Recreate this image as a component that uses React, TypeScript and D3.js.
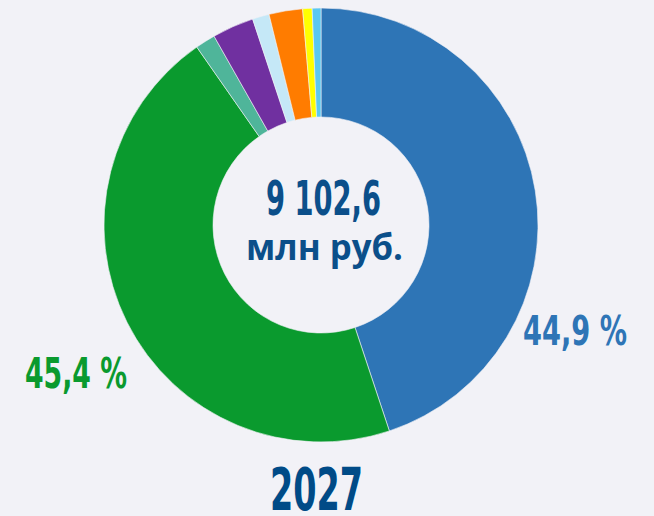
import React from "react";
import * as d3 from "d3";

const categories = ["A", "B", "C", "D", "E", "F", "G", "H"];
const values = [44.9, 45.4, 1.5, 3.1, 1.25, 2.5, 0.7, 0.65];
const colors = ["#2e75b6", "#0a9a2e", "#4fb59a", "#7030a0", "#c5e8f7", "#ff7c00", "#ffff00", "#5bc8f0"];
const labelBlue = "44,9 %";
const labelGreen = "45,4 %";
const totalText = "9 102,6";
const unitText = "млн руб.";
const yearText = "2027";

const W = 654;
const H = 516;
const cx = 321;
const cy = 225;
const rOuter = 217;
const rInner = 108;

const condensed = "'Liberation Sans Narrow', 'DejaVu Sans Condensed', sans-serif";

export default function App() {
  const pie = d3.pie<number>().sort(null).value((d) => d)(values);
  const arc = d3.arc<d3.PieArcDatum<number>>().innerRadius(rInner).outerRadius(rOuter);
  return (
    <svg width={W} height={H} style={{ position: "absolute", left: 0, top: 0, display: "block" }}>
      <rect x={0} y={0} width={W} height={H} fill="#f2f2f7" />
      <g transform={`translate(${cx},${cy})`}>
        {pie.map((p, i) => (
          <path key={categories[i]} d={arc(p) || ""} fill={colors[i]} stroke="#f2f2f7" strokeWidth={0.6} />
        ))}
      </g>
      <text x={323.5} y={215} textAnchor="middle" fontFamily={condensed} fontWeight="bold" fontSize={48} fill="#0b4f8a" textLength={115} lengthAdjust="spacingAndGlyphs">{totalText}</text>
      <text x={324.5} y={260} textAnchor="middle" fontFamily="'Open Sans', sans-serif" fontWeight="bold" fontSize={36} fill="#0b4f8a" textLength={157} lengthAdjust="spacingAndGlyphs">{unitText}</text>
      <text x={575} y={345} textAnchor="middle" fontFamily={condensed} fontWeight="bold" fontSize={41} fill="#2e75b6" textLength={104} lengthAdjust="spacingAndGlyphs">{labelBlue}</text>
      <text x={76} y={388} textAnchor="middle" fontFamily={condensed} fontWeight="bold" fontSize={42.5} fill="#0a9a2e" textLength={102} lengthAdjust="spacingAndGlyphs">{labelGreen}</text>
      <text x={316.5} y={510} textAnchor="middle" fontFamily={condensed} fontWeight="bold" fontSize={58} fill="#004b87" textLength={93} lengthAdjust="spacingAndGlyphs">{yearText}</text>
    </svg>
  );
}
